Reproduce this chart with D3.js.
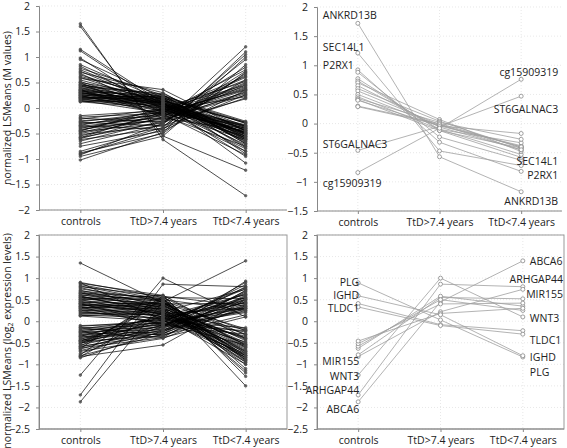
<!DOCTYPE html>
<html><head><meta charset="utf-8">
<script src="https://cdn.jsdelivr.net/npm/d3@7"></script>
<style>body{margin:0;background:#fff} text{font-family:"Open Sans",sans-serif;fill:#222}</style>
</head><body><svg id="c" width="567" height="448"></svg>
<script>
const categories = ["controls", "TtD>7.4 years", "TtD<7.4 years"];
const methTicks = [2, 1.5, 1, 0.5, 0, -0.5, -1, -1.5, -2];
const methTopTicks = [2, 1.5, 1, 0.5, 0, -0.5, -1, -1.5];
const exprTicks = [2, 1.5, 1, 0.5, 0, -0.5, -1, -1.5, -2, -2.5];

// top-left: all methylation sites, [controls, TtD>7.4, TtD<7.4]
const methDown = [
 [1.65,-0.62,-1.72],[1.60,-0.55,-1.22],[1.15,0.10,-1.08],[1.12,0.05,-0.95],[0.98,-0.05,-0.85],
 [0.95,0.20,-0.90],[0.85,0.15,-0.75],[0.82,0.00,-0.80],[0.78,0.25,-0.70],[0.75,0.10,-0.65],
 [0.72,0.05,-0.72],[0.70,0.30,-0.60],[0.68,-0.10,-0.55],[0.65,0.15,-0.62],[0.62,0.20,-0.50],
 [0.60,0.08,-0.58],[0.58,0.36,-0.45],[0.55,0.12,-0.52],[0.52,0.00,-0.48],[0.50,0.22,-0.70],
 [0.48,0.05,-0.40],[0.46,0.18,-0.55],[0.45,-0.05,-0.35],[0.43,0.10,-0.62],[0.42,0.28,-0.45],
 [0.40,0.02,-0.50],[0.38,0.15,-0.38],[0.37,0.08,-0.65],[0.36,-0.08,-0.42],[0.35,0.20,-0.30],
 [0.34,0.12,-0.55],[0.33,0.04,-0.48],[0.32,0.25,-0.36],[0.31,-0.02,-0.58],[0.30,0.14,-0.44],
 [0.29,0.06,-0.33],[0.28,0.18,-0.52],[0.27,0.00,-0.40],[0.26,0.10,-0.60],[0.25,0.22,-0.28],
 [0.24,-0.04,-0.46],[0.23,0.08,-0.38],[0.22,0.16,-0.50],[0.21,0.02,-0.34],[0.20,0.12,-0.56],
 [0.19,-0.06,-0.42],[0.18,0.20,-0.30],[0.17,0.06,-0.48],[0.16,0.10,-0.36],[0.15,-0.10,-0.62],
 [0.14,0.04,-0.40],[0.13,0.14,-0.28],[0.12,0.00,-0.52],[0.40,0.18,-0.78],[0.30,0.10,-0.85],
 [0.25,-0.12,-0.92],[0.45,0.26,-0.68],[0.35,-0.15,-0.75],[0.20,0.24,-0.26],[0.50,-0.20,-0.44]
];
const methUp = [
 [-0.15,-0.05,0.62],[-0.18,-0.10,0.75],[-0.22,-0.02,0.45],[-0.25,-0.15,0.35],[-0.27,-0.08,0.55],
 [-0.30,-0.20,0.28],[-0.32,-0.12,0.40],[-0.34,-0.04,0.22],[-0.36,-0.18,0.50],[-0.38,-0.25,0.32],
 [-0.40,-0.10,0.60],[-0.42,-0.22,0.25],[-0.44,-0.06,0.42],[-0.46,-0.30,0.72],[-0.48,-0.14,0.30],
 [-0.50,-0.20,0.48],[-0.52,-0.35,0.20],[-0.55,-0.12,0.38],[-0.58,-0.28,0.65],[-0.60,-0.18,0.80],
 [-0.62,-0.40,0.26],[-0.65,-0.25,0.45],[-0.70,-0.32,0.95],[-0.75,-0.45,0.35],[-0.85,-0.38,1.05],
 [-0.88,-0.50,0.70],[-0.90,-0.42,1.10],[-0.92,-0.30,1.20],[-0.95,-0.55,0.85],[-1.02,-0.48,1.00],
 [-0.20,-0.28,0.18],[-0.28,-0.35,0.55],[-0.35,-0.42,0.68],[-0.45,0.00,0.52],[-0.58,-0.08,0.36]
];

// top-right: top methylation sites
const methTop = [
 [1.72,-0.57,-1.17],[1.21,-0.47,-0.72],[0.92,-0.32,-0.82],[0.88,-0.23,-0.63],[0.77,-0.12,-0.58],
 [0.73,-0.10,-0.53],[0.70,0.07,-0.48],[0.65,-0.06,-0.45],[0.60,0.04,-0.42],[0.56,-0.02,-0.40],
 [0.50,-0.04,-0.38],[0.46,-0.10,-0.33],[0.43,0.02,-0.27],[0.41,-0.12,-0.42],[0.40,-0.04,-0.17],
 [0.30,0.00,-0.40],[0.29,-0.02,-0.45],[-0.46,-0.05,0.47],[-0.84,-0.08,0.76]
];
const methLabelsLeft = [["ANKRD13B",1.86],["SEC14L1",1.30],["P2RX1",1.00],["ST6GALNAC3",-0.35],["cg15909319",-1.02]];
const methLabelsRight = [["cg15909319",0.885],["ST6GALNAC3",0.25],["SEC14L1",-0.65],["P2RX1",-0.88],["ANKRD13B",-1.33]];

// bottom: expression
const exprDown = [
 [1.35,0.42,-0.55],[0.90,0.55,-1.50],[0.88,0.60,-1.28],[0.85,0.50,-1.20],[0.82,0.45,-1.15],
 [0.80,0.58,-1.10],[0.78,0.35,-0.95],[0.75,0.48,-0.90],[0.72,0.30,-1.00],[0.70,0.52,-0.85],
 [0.68,0.40,-0.80],[0.66,0.25,-0.92],[0.64,0.45,-0.75],[0.62,0.32,-0.70],[0.60,0.50,-0.88],
 [0.58,0.20,-0.65],[0.56,0.38,-0.60],[0.54,0.28,-0.78],[0.52,0.42,-0.55],[0.50,0.15,-0.72],
 [0.48,0.35,-0.50],[0.46,0.25,-0.85],[0.44,0.40,-0.45],[0.42,0.18,-0.62],[0.40,0.30,-0.40],
 [0.38,0.22,-0.95],[0.36,0.45,-0.58],[0.34,0.10,-0.35],[0.32,0.28,-0.68],[0.30,0.35,-0.30],
 [0.28,0.20,-0.52],[0.26,0.12,-0.80],[0.24,0.30,-0.42],[0.22,0.05,-0.25],[0.20,0.25,-0.60],
 [0.18,0.15,-0.38],[0.16,0.22,-0.20],[0.14,0.08,-0.48],[0.13,0.18,-0.70],[0.12,0.00,-0.15],
 [0.65,0.55,-0.32],[0.55,0.48,-0.22],[0.45,0.10,-1.00],[0.35,0.38,-0.90],[0.25,-0.05,-0.55],
 [0.50,0.60,-0.40],[0.40,0.02,-0.75],[0.30,0.42,-0.18]
];
const exprUp = [
 [-0.10,-0.05,0.30],[-0.12,0.02,0.55],[-0.15,-0.10,0.20],[-0.18,0.05,0.62],[-0.20,-0.15,0.40],
 [-0.22,-0.02,0.75],[-0.24,-0.20,0.28],[-0.26,0.08,0.50],[-0.28,-0.08,0.35],[-0.30,-0.25,0.68],
 [-0.32,0.00,0.22],[-0.34,-0.12,0.45],[-0.36,-0.30,0.58],[-0.38,-0.05,0.32],[-0.40,-0.18,0.80],
 [-0.42,0.10,0.42],[-0.44,-0.22,0.25],[-0.46,-0.35,0.52],[-0.48,-0.10,0.65],[-0.50,-0.28,0.38],
 [-0.52,0.04,0.48],[-0.55,-0.15,0.90],[-0.58,-0.32,0.30],[-0.60,-0.20,0.55],[-0.62,-0.38,0.72],
 [-0.65,-0.08,0.44],[-0.68,-0.25,0.60],[-0.70,-0.40,0.35],[-0.75,-0.12,0.85],[-0.80,-0.30,0.93],
 [-0.82,-0.55,0.50],[-0.85,-0.22,0.70],[-0.15,-0.32,0.15],[-0.25,-0.38,0.10],[-0.35,0.12,0.62],
 [-0.45,-0.02,0.78]
];
// bottom-right: top genes (also part of the full set)
const exprTop = [
 [-1.87,0.45,1.40],[-1.71,0.86,0.80],[-1.25,1.00,0.10],[-0.82,0.22,0.74],[-0.78,0.55,0.52],
 [-0.63,0.58,0.35],[-0.58,0.50,0.25],[-0.52,0.40,0.42],[-0.46,0.18,0.30],
 [0.89,0.03,-0.83],[0.59,0.15,-0.80],[0.41,-0.08,-0.22],[0.33,-0.10,-0.30]
];
const exprLabelsLeft = [["PLG",0.90],["IGHD",0.60],["TLDC1",0.30],["MIR155",-0.92],["WNT3",-1.28],["ARHGAP44",-1.60],["ABCA6",-2.04]];
const exprLabelsRight = [["ABCA6",1.40],["ARHGAP44",0.98],["MIR155",0.63],["WNT3",0.07],["TLDC1",-0.44],["IGHD",-0.83],["PLG",-1.18]];

const svg = d3.select("#c");

function panel(o) {
  const g = svg.append("g");
  const x = d3.scalePoint().domain(categories).range([o.x0, o.x1]).padding(0.5);
  const y = d3.scaleLinear().domain(o.domain).range([o.y1, o.y0]);
  g.append("g").selectAll("line").data(o.ticks).join("line")
    .attr("x1", o.x0).attr("x2", o.x1).attr("y1", d => y(d)).attr("y2", d => y(d))
    .attr("stroke", "#d8d8d8").attr("stroke-width", 0.6).attr("stroke-dasharray", "1,2");
  g.append("g").selectAll("line").data(categories).join("line")
    .attr("x1", d => x(d)).attr("x2", d => x(d)).attr("y1", o.y0).attr("y2", o.y1)
    .attr("stroke", "#d8d8d8").attr("stroke-width", 0.6).attr("stroke-dasharray", "1,2");
  if (o.box) {
    g.append("rect").attr("x", o.x0).attr("y", o.y0).attr("width", o.x1 - o.x0).attr("height", o.y1 - o.y0)
      .attr("fill", "none").attr("stroke", "#999").attr("stroke-width", 1);
  }
  const ya = g.append("g").attr("transform", `translate(${o.x0},0)`)
    .call(d3.axisLeft(y).tickValues(o.ticks).tickSize(3).tickPadding(6).tickFormat(d3.format("")));
  const xa = g.append("g").attr("transform", `translate(0,${o.y1})`)
    .call(d3.axisBottom(x).tickSize(3).tickPadding(5));
  [ya, xa].forEach(a => {
    a.select(".domain").attr("stroke", "#888");
    a.selectAll(".tick line").attr("stroke", "#888");
    a.selectAll("text").style("font-size", "10.5px").style("font-family", '"Open Sans",sans-serif').attr("fill", "#222");
  });
  xa.select(".domain").attr("d", `M${o.x0},0H${o.x1}`);
  const line = d3.line().x((d, i) => x(categories[i])).y(d => y(d));
  const lg = g.append("g");
  lg.selectAll("path").data(o.data).join("path").attr("d", line)
    .attr("fill", "none").attr("stroke", o.lineColor).attr("stroke-opacity", o.lineOpacity)
    .attr("stroke-width", o.lineWidth);
  const pts = o.data.flatMap(r => r.map((v, i) => [categories[i], v]));
  lg.selectAll("circle").data(pts).join("circle")
    .attr("cx", d => x(d[0])).attr("cy", d => y(d[1])).attr("r", o.r)
    .attr("fill", o.ptFill).attr("stroke", o.ptStroke).attr("stroke-width", 0.8).attr("stroke-opacity", o.ptOpacity).attr("fill-opacity", o.ptOpacity);
  if (o.labelsLeft) {
    g.append("g").selectAll("text").data(o.labelsLeft).join("text")
      .attr("x", x(categories[0]) + o.leftDx).attr("y", d => y(d[1])).attr("dy", "0.35em")
      .attr("text-anchor", o.leftAnchor).style("font-size", "10.5px").text(d => d[0]);
    g.append("g").selectAll("text").data(o.labelsRight).join("text")
      .attr("x", x(categories[2]) + o.rightDx).attr("y", d => y(d[1])).attr("dy", "0.35em")
      .attr("text-anchor", o.rightAnchor).style("font-size", "10.5px").text(d => d[0])
      .each(function () {
        const w = this.getComputedTextLength();
        const xx = +this.getAttribute("x");
        if (o.rightAnchor === "start" && xx + w > o.xMax) this.setAttribute("x", o.xMax - w);
      });
  }
  return {x, y};
}

const dense = {lineColor: "#000", lineOpacity: 0.7, lineWidth: 1, r: 1.3, ptFill: "#444", ptStroke: "#444", ptOpacity: 0.75};
const sparse = {lineColor: "#a0a0a0", lineOpacity: 1, lineWidth: 0.8, r: 2, ptFill: "#fff", ptStroke: "#888", ptOpacity: 1};

panel(Object.assign({x0: 39, x1: 287, y0: 6, y1: 210, domain: [-2, 2], ticks: methTicks, data: methDown.concat(methUp)}, dense));
panel(Object.assign({x0: 317, x1: 562, y0: 7, y1: 211, domain: [-1.5, 2], ticks: methTopTicks, data: methTop,
  labelsLeft: methLabelsLeft, labelsRight: methLabelsRight, leftDx: -35, leftAnchor: "start", rightDx: 37, rightAnchor: "end"}, sparse));
panel(Object.assign({x0: 39, x1: 287, y0: 235, y1: 429, domain: [-2.5, 2], ticks: exprTicks, box: true, data: exprDown.concat(exprUp, exprTop)}, dense));
panel(Object.assign({x0: 317, x1: 564, y0: 235, y1: 429, domain: [-2.5, 2], ticks: exprTicks, box: true, data: exprTop,
  labelsLeft: exprLabelsLeft, labelsRight: exprLabelsRight, leftDx: 1, leftAnchor: "end", rightDx: 7, rightAnchor: "start", xMax: 563}, sparse));

svg.append("text").attr("transform", "translate(11,108) rotate(-90)").attr("text-anchor", "middle")
  .style("font-size", "10.5px").text("normalized LSMeans (M values)");
const t2 = svg.append("text").attr("transform", "translate(11,341) rotate(-90)").attr("text-anchor", "middle")
  .style("font-size", "10.5px");
t2.append("tspan").text("normalized LSMeans (log");
t2.append("tspan").attr("font-size", "7px").attr("dy", "2").text("2");
t2.append("tspan").attr("dy", "-2").text(" expression levels)");
</script></body></html>
